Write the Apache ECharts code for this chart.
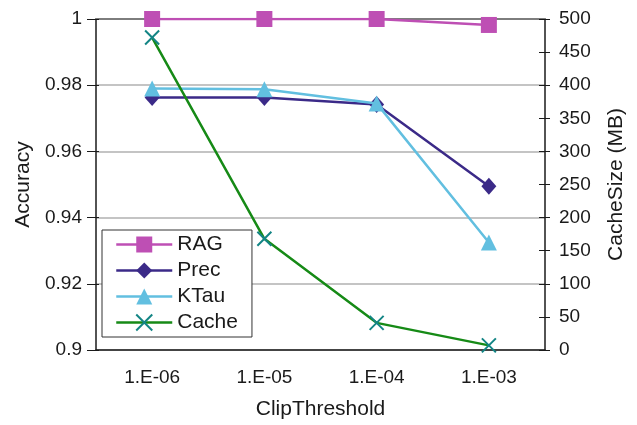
<!DOCTYPE html>
<html>
<head>
<meta charset="utf-8">
<script src="https://cdn.jsdelivr.net/npm/echarts@6/dist/echarts.min.js"></script>
<style>
  html, body { margin: 0; padding: 0; background: #fff; }
  #chart { width: 637px; height: 425px; }
</style>
</head>
<body>
<div id="chart"></div>
<script>
const categories = ['1.E-06', '1.E-05', '1.E-04', '1.E-03']
const ragValues = [1.0, 1.0, 1.0, 0.9982]
const precValues = [0.9763, 0.9763, 0.9742, 0.9495]
const ktauValues = [0.979, 0.9788, 0.9745, 0.9325]
const cacheValues = [472, 168, 41, 7]

const FONT = '"Liberation Sans", Arial, Helvetica, sans-serif'
const black = '#1a1a1a'

const chart = echarts.init(document.getElementById('chart'))

// ticks in the reference cross the axis line, so a second axis draws the inner half
const tickOnly = { show: false }

chart.setOption({
  animation: false,
  textStyle: { fontFamily: FONT },
  grid: { left: 96, right: 92, top: 19, bottom: 73 },
  legend: {
    left: 102,
    top: 230,
    orient: 'vertical',
    padding: [4, 14, 4, 13],
    itemWidth: 56,
    itemHeight: 20,
    itemGap: 5,
    borderColor: '#333',
    borderWidth: 1,
    backgroundColor: '#fff',
    lineStyle: { width: 2.5 },
    textStyle: { fontSize: 21, color: black, fontFamily: FONT, lineHeight: 21 },
    data: ['RAG', 'Prec', 'KTau', 'Cache'],
  },
  xAxis: [
    {
      type: 'category',
      data: categories,
      boundaryGap: true,
      name: 'ClipThreshold',
      nameLocation: 'middle',
      nameGap: 49,
      nameTextStyle: { fontSize: 21, color: black },
      axisLine: { lineStyle: { color: black, width: 1.5 } },
      axisTick: { length: 7, lineStyle: { color: black } },
      axisLabel: { fontSize: 19, color: black, margin: 18 },
    },
    {
      type: 'category',
      data: categories,
      position: 'bottom',
      boundaryGap: true,
      axisLine: tickOnly,
      axisTick: { inside: true, length: 5, lineStyle: { color: black } },
      axisLabel: tickOnly,
    },
    {
      type: 'category',
      data: categories,
      position: 'top',
      axisLine: { lineStyle: { color: '#7d7d7d', width: 2 } },
      axisTick: tickOnly,
      axisLabel: tickOnly,
    },
  ],
  yAxis: [
    {
      type: 'value',
      min: 0.9,
      max: 1,
      interval: 0.02,
      position: 'left',
      name: 'Accuracy',
      nameLocation: 'middle',
      nameGap: 60,
      nameTextStyle: { fontSize: 21, color: black },
      axisLine: { show: true, lineStyle: { color: black, width: 1.5 } },
      axisTick: { show: true, length: 9, lineStyle: { color: black } },
      axisLabel: { fontSize: 19, color: black, margin: 14 },
      splitLine: { lineStyle: { color: '#c4c4c4', width: 2 } },
    },
    {
      type: 'value',
      min: 0,
      max: 500,
      interval: 50,
      position: 'right',
      name: 'CacheSize (MB)',
      nameLocation: 'middle',
      nameGap: 61,
      nameTextStyle: { fontSize: 21, color: black },
      axisLine: { show: true, lineStyle: { color: black, width: 1.5 } },
      axisTick: { show: true, length: 5, lineStyle: { color: black } },
      axisLabel: { fontSize: 19, color: black, margin: 14 },
      splitLine: { show: false },
    },
    {
      type: 'value',
      min: 0.9,
      max: 1,
      interval: 0.02,
      position: 'left',
      axisLine: tickOnly,
      axisTick: { show: true, inside: true, length: 3, lineStyle: { color: black } },
      axisLabel: tickOnly,
      splitLine: tickOnly,
    },
    {
      type: 'value',
      min: 0,
      max: 500,
      interval: 50,
      position: 'right',
      axisLine: tickOnly,
      axisTick: { show: true, inside: true, length: 6, lineStyle: { color: black } },
      axisLabel: tickOnly,
      splitLine: tickOnly,
    },
  ],
  series: [
    {
      name: 'RAG',
      type: 'line',
      data: ragValues,
      symbol: 'rect',
      symbolSize: 16,
      lineStyle: { color: '#be4fb4', width: 2.5 },
      itemStyle: { color: '#be4fb4' },
      z: 5,
    },
    {
      name: 'Prec',
      type: 'line',
      data: precValues,
      symbol: 'diamond',
      symbolSize: [15, 17],
      lineStyle: { color: '#3b2a88', width: 2.5 },
      itemStyle: { color: '#3b2a88' },
      z: 3,
    },
    {
      name: 'KTau',
      type: 'line',
      data: ktauValues,
      symbol: 'triangle',
      symbolSize: [16, 16],
      lineStyle: { color: '#62bfe0', width: 2.5 },
      itemStyle: { color: '#62bfe0' },
      z: 4,
    },
    {
      name: 'Cache',
      type: 'line',
      yAxisIndex: 1,
      data: cacheValues,
      symbol: 'path://M0,0L10,10M10,0L0,10',
      symbolSize: 14,
      lineStyle: { color: '#168a16', width: 2.5 },
      itemStyle: { color: '#138585', borderColor: '#138585', borderWidth: 2 },
      z: 6,
    },
  ],
})
</script>
</body>
</html>
